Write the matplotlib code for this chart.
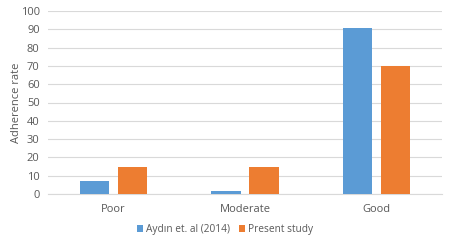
import numpy as np
import matplotlib
matplotlib.use("Agg")
import matplotlib.pyplot as plt

categories = ["Poor", "Moderate", "Good"]
aydin = [7.1, 1.8, 90.5]
present = [14.8, 14.6, 70.1]
series_names = ["Aydın et. al (2014)", "Present study"]

plt.rcParams['font.family'] = ['Open Sans', 'DejaVu Sans']
grey = '#595959'

fig = plt.figure(figsize=(4.5, 2.42), dpi=100)
ax = fig.add_axes([48/450, 1 - 194/242, 394/450, 183/242])

x = np.arange(len(categories))
w = 0.225
ax.bar(x - 0.145, aydin, w, color='#5B9BD5', label=series_names[0], zorder=3)
ax.bar(x + 0.145, present, w, color='#ED7D31', label=series_names[1], zorder=3)

ax.set_xlim(-0.5, 2.5)
ax.set_ylim(0, 100)
ax.set_yticks(range(0, 101, 10))
ax.set_xticks(x)
ax.set_xticklabels(categories)
ax.yaxis.grid(True, color='#D9D9D9', linewidth=0.8, zorder=0)
for s in ['top', 'right', 'left']:
    ax.spines[s].set_visible(False)
ax.spines['bottom'].set_color('#D9D9D9')
ax.tick_params(axis='both', length=0, colors=grey, labelsize=8)
ax.tick_params(axis='x', pad=7)
ax.tick_params(axis='y', pad=6)
ax.set_ylabel("Adherence rate", color=grey, fontsize=8, labelpad=-1)

ax.legend(loc='center', bbox_to_anchor=(0.45, -0.195), ncol=2, frameon=False,
          fontsize=7.3, labelcolor=grey, handlelength=0.6, handleheight=0.6,
          handletextpad=0.3, columnspacing=0.9, borderpad=0.2)

fig.savefig("out.png", dpi=100)
